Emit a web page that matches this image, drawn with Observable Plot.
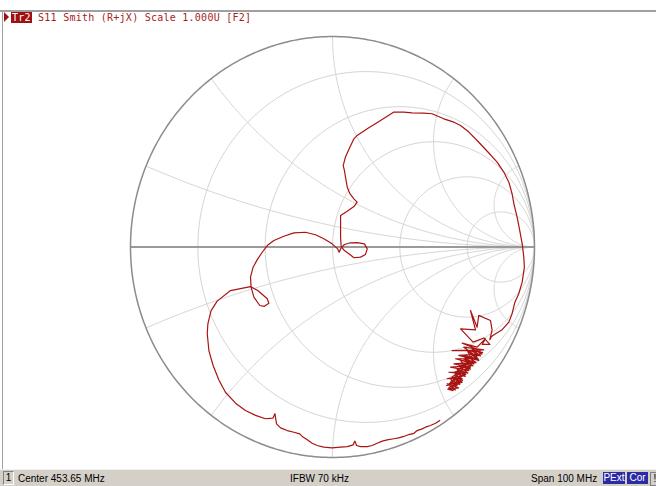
<!DOCTYPE html>
<html>
<head>
<meta charset="utf-8">
<script src="https://cdn.jsdelivr.net/npm/d3@7"></script>
<script src="https://cdn.jsdelivr.net/npm/@observablehq/plot@0.6"></script>
<style>
  html, body { margin: 0; padding: 0; background: #fff; }
  #wrap { position: relative; width: 656px; height: 486px; overflow: hidden; background: #fff; }
  #chart { position: absolute; left: 0; top: 0; }
  #topline { position: absolute; left: 0; top: 10px; width: 656px; height: 2px; background: #a0a0a0; }
  #leftline { position: absolute; left: 2px; top: 10px; width: 1px; height: 459px; background: #a0a0a0; }
  #header { position: absolute; left: 4px; top: 12px; height: 11px; font: 10px "DejaVu Sans Mono", "Liberation Mono", monospace; letter-spacing: 0.25px; color: #a81c1c; white-space: pre; line-height: 11px; }
  #header .tri { display: inline-block; width: 0; height: 0; border-top: 5px solid transparent; border-bottom: 5px solid transparent; border-left: 5px solid #a01010; vertical-align: -1px; margin-right: 2px; }
  #header .tr { background: #a01010; color: #fff; padding: 0 1px; }
  #status { position: absolute; left: 0; top: 469px; width: 656px; height: 17px; background: #d4d0c8; border-top: 1px solid #f0f0f0; font: 10px "Liberation Sans", Arial, sans-serif; color: #000; }
  #status span { position: absolute; top: 3px; line-height: 11px; white-space: pre; }
  #status .box { top: 2px; height: 12px; line-height: 12px; text-align: center; }
  #status .one { left: 3px; width: 9px; border: 1px solid #808080; border-right-color: #fff; border-bottom-color: #fff; top: 1px; }
  #status .blue { background: #2b2ba6; color: #fff; }
</style>
</head>
<body>
<div id="wrap">
  <div id="chart"></div>
  <div id="topline"></div>
  <div id="leftline"></div>
  <div id="header"><span class="tri"></span><span class="tr">Tr2</span> S11 Smith (R+jX) Scale 1.000U [F2]</div>
  <div id="status">
    <span class="box one">1</span>
    <span style="left:18px">Center 453.65 MHz</span>
    <span style="left:290px">IFBW 70 kHz</span>
    <span style="left:531px">Span 100 MHz</span>
    <span class="box blue" style="left:603px;width:22px">PExt</span>
    <span class="box blue" style="left:627px;width:21px">Cor</span>
    <span class="box" style="left:650px;width:8px;border:1px solid #808080">!</span>
  </div>
</div>
<script>
// Smith chart grid values
const resistanceCircles = [0.2, 0.5, 1, 2, 5];
const reactanceArcs = [0.2, 0.5, 1, 2, 5];

// S11 trace (reflection coefficient, real / imaginary parts)
const traceRe = [
  0.531,0.510,0.485,0.460,0.444,0.419,0.403,0.378,0.353,0.328,
  0.304,0.271,0.246,0.221,0.196,0.172,0.139,0.119,0.111,0.102,
  0.073,0.040,-0.002,-0.043,-0.076,-0.101,-0.125,-0.150,-0.162,-0.191,
  -0.224,-0.257,-0.277,-0.285,-0.295,-0.332,-0.381,-0.431,-0.480,-0.530,
  -0.563,-0.591,-0.612,-0.620,-0.617,-0.601,-0.571,-0.505,-0.406,-0.370,
  -0.323,-0.315,-0.337,-0.360,-0.389,-0.403,-0.406,-0.393,-0.373,-0.348,
  -0.323,-0.290,-0.241,-0.191,-0.134,-0.084,-0.043,-0.002,0.026,0.033,
  0.043,0.059,0.089,0.122,0.158,0.172,0.163,0.139,0.106,0.086,
  0.059,0.043,0.040,0.040,0.073,0.106,0.122,0.106,0.086,0.073,
  0.066,0.059,0.053,0.064,0.086,0.106,0.122,0.172,0.238,0.304,
  0.353,0.394,0.452,0.493,0.551,0.601,0.634,0.675,0.716,0.766,
  0.815,0.848,0.873,0.889,0.898,0.914,0.927,0.939,0.947,0.950,
  0.939,0.922,0.903,0.889,0.873,0.840,0.807,0.787,0.779
];
const traceIm = [
  -0.824,-0.837,-0.848,-0.856,-0.864,-0.872,-0.885,-0.891,-0.900,-0.907,
  -0.911,-0.916,-0.922,-0.932,-0.943,-0.948,-0.948,-0.943,-0.922,-0.940,
  -0.948,-0.951,-0.954,-0.951,-0.943,-0.932,-0.916,-0.900,-0.888,-0.880,
  -0.872,-0.859,-0.840,-0.792,-0.813,-0.816,-0.800,-0.777,-0.742,-0.690,
  -0.631,-0.563,-0.492,-0.412,-0.365,-0.302,-0.257,-0.207,-0.188,-0.207,
  -0.246,-0.267,-0.282,-0.278,-0.238,-0.191,-0.143,-0.096,-0.061,-0.025,
  0.007,0.031,0.051,0.067,0.070,0.058,0.039,0.015,-0.009,-0.025,
  -0.004,0.012,0.020,0.021,0.015,-0.009,-0.036,-0.048,-0.051,-0.036,
  -0.017,0.002,0.047,0.150,0.170,0.192,0.213,0.229,0.253,0.284,
  0.324,0.364,0.387,0.427,0.474,0.514,0.530,0.562,0.601,0.641,
  0.641,0.637,0.636,0.633,0.609,0.593,0.577,0.546,0.506,0.455,
  0.403,0.356,0.308,0.253,0.205,0.142,0.078,0.015,-0.048,-0.096,
  -0.167,-0.222,-0.262,-0.317,-0.357,-0.393,-0.412,-0.425,-0.440
];
// noisy end of sweep (star + dense cluster, two passes)
const noiseRe = [
  0.790,0.782,0.724,0.716,0.683,0.708,0.634,0.696,0.749,0.779,0.741,0.757,
  0.716,0.642,0.733,0.592,0.749,0.650,0.716,0.691,0.741,0.625,0.724,0.667,0.700,0.609,0.716,0.650,
  0.683,0.601,0.708,0.634,0.675,0.584,0.691,0.617,0.658,0.576,0.667,0.601,0.642,0.568,0.650,0.584,
  0.625,0.564,0.634,0.576,0.609,0.568,0.617,0.592,0.642,0.584,0.604,
  0.581,0.614,0.587,0.630,0.594,0.644,0.604,0.657,0.617,0.670,0.630,0.683,0.644,0.696,0.657,0.710,
  0.670,0.723,0.683,0.733,0.696,0.743,0.680,0.719,0.650,0.700,0.627,0.680,0.607,0.660,0.591,0.637,
  0.578,0.624,0.571,0.597
];
const noiseIm = [
  -0.394,-0.349,-0.325,-0.381,-0.302,-0.394,-0.389,-0.452,-0.432,-0.463,-0.463,-0.436,
  -0.476,-0.457,-0.492,-0.492,-0.489,-0.476,-0.523,-0.484,-0.508,-0.515,-0.539,-0.492,-0.555,-0.531,-0.531,-0.515,
  -0.571,-0.555,-0.547,-0.539,-0.587,-0.571,-0.563,-0.579,-0.603,-0.595,-0.595,-0.610,-0.626,-0.626,-0.610,-0.642,
  -0.650,-0.658,-0.634,-0.669,-0.679,-0.650,-0.658,-0.618,-0.642,-0.663,-0.674,
  -0.647,-0.669,-0.631,-0.653,-0.615,-0.634,-0.599,-0.615,-0.584,-0.599,-0.568,-0.580,-0.552,-0.565,-0.536,-0.549,
  -0.520,-0.533,-0.508,-0.517,-0.495,-0.501,-0.492,-0.508,-0.533,-0.546,-0.565,-0.577,-0.593,-0.606,-0.622,-0.641,
  -0.650,-0.669,-0.675,-0.682
];

const allRe = traceRe.concat(noiseRe);
const allIm = traceIm.concat(noiseIm);
const trace = allRe.map((re, i) => ({re, im: allIm[i]}));

// grid geometry from grid values
const grid = [];
const N = 240;
resistanceCircles.forEach((r, k) => {
  const c = r / (1 + r), R = 1 / (1 + r);
  for (let i = 0; i <= N; i++) {
    const t = 2 * Math.PI * i / N;
    grid.push({id: "r" + k, x: c + R * Math.cos(t), y: R * Math.sin(t)});
  }
});
reactanceArcs.forEach((xv, k) => {
  const R = 1 / xv;
  let phiI = Math.atan2((xv * xv - 1) / xv, -2);
  if (phiI < 0) phiI += 2 * Math.PI;
  const phiEnd = 1.5 * Math.PI;
  [1, -1].forEach(s => {
    for (let i = 0; i <= N; i++) {
      const p = phiI + (phiEnd - phiI) * i / N;
      grid.push({id: "x" + k + s, x: 1 + R * Math.cos(p), y: s * (R + R * Math.sin(p))});
    }
  });
});
const outer = d3.range(0, 361).map(a => ({x: Math.cos(a * Math.PI / 180), y: Math.sin(a * Math.PI / 180)}));

const chart = Plot.plot({
  width: 656,
  height: 469,
  marginLeft: 130,
  marginRight: 122,
  marginTop: 36,
  marginBottom: 12,
  x: {domain: [-1, 1], axis: null},
  y: {domain: [-1, 1], axis: null},
  style: {background: "transparent"},
  marks: [
    Plot.line(grid, {x: "x", y: "y", z: "id", stroke: "#d4d4d4", strokeWidth: 1}),
    Plot.ruleY([0], {x1: -1, x2: 1, stroke: "#9a9a9a", strokeWidth: 2}),
    Plot.line(outer, {x: "x", y: "y", stroke: "#8c8c8c", strokeWidth: 1.5}),
    Plot.line(trace, {x: "re", y: "im", stroke: "#a81414", strokeWidth: 1.2, strokeLinejoin: "round"})
  ]
});
document.getElementById("chart").appendChild(chart);
</script>
</body>
</html>
